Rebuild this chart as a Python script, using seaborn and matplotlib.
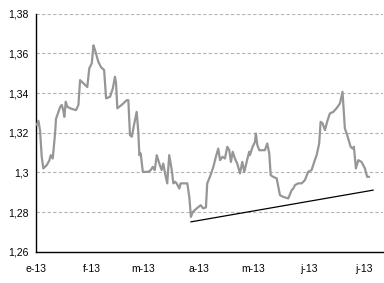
import matplotlib
matplotlib.use("Agg")
import matplotlib.pyplot as plt
import seaborn as sns
import pandas as pd

# days since 1 Jan 2013
days = [0.4, 1.3, 2.2, 3.1, 4.0, 5.9, 7.3, 8.1, 9.2, 10.5, 11.0, 13.3, 14.2, 15.1, 15.6,
        16.4, 17.3, 19.7, 22.1, 23.4, 24.3, 26.1, 28.3, 29.4, 30.8, 31.7, 32.6, 34.4, 35.9,
        37.6, 38.7, 40.9, 42.4, 43.6, 44.2, 44.9, 47.3, 50.1, 51.0, 51.9, 52.9, 54.1, 55.6,
        56.5, 57.1, 57.8, 59.0, 59.7, 62.0, 63.4, 64.5, 65.6, 66.7, 68.1, 69.4, 70.3, 71.3,
        72.5, 73.6, 75.0, 75.9, 76.8, 77.7, 79.2, 79.9, 81.4, 83.6, 84.7, 85.6, 86.6, 88.8,
        91.0, 92.4, 93.9, 94.6, 96.1, 98.0, 99.4, 100.7, 101.7, 103.1, 104.4, 105.7, 106.8,
        107.7, 108.7, 109.9, 111.2, 112.7, 114.0, 115.1, 116.4, 117.8, 118.2, 119.7, 121.0,
        121.5, 122.3, 123.4, 126.5, 127.8, 128.9, 129.7, 131.1, 133.0, 133.9, 134.8, 136.6,
        139.4, 141.3, 142.2, 143.1, 144.9, 146.8, 148.6, 150.4, 152.3, 154.1, 155.1, 156.5,
        157.3, 158.4, 159.7, 160.9, 162.4, 164.3, 166.1, 168.0, 169.4, 170.7, 172.0, 173.9,
        175.0, 175.7, 176.8, 178.1, 179.9, 181.8, 183.0, 184.1]
rate = [1.324, 1.326, 1.321, 1.308, 1.302, 1.3037, 1.306, 1.3087, 1.307, 1.3197, 1.327,
        1.333, 1.334, 1.331, 1.328, 1.3356, 1.333, 1.332, 1.3314, 1.334, 1.3465, 1.3449,
        1.343, 1.3524, 1.355, 1.364, 1.3616, 1.3557, 1.353, 1.3516, 1.3373, 1.3381, 1.3423,
        1.3482, 1.345, 1.3323, 1.334, 1.3364, 1.3364, 1.3188, 1.318, 1.3238, 1.3305, 1.3205,
        1.3087, 1.3096, 1.3003, 1.3003, 1.3003, 1.3012, 1.3028, 1.3012, 1.3087, 1.3045,
        1.3012, 1.3045, 1.2995, 1.2945, 1.3087, 1.3012, 1.2945, 1.2953, 1.2945, 1.2919,
        1.2945, 1.2945, 1.2945, 1.2877, 1.2776, 1.2801, 1.2819, 1.2835, 1.2819, 1.2824,
        1.2945, 1.2978, 1.3028, 1.3079, 1.312, 1.3062, 1.3079, 1.307, 1.3129, 1.3112,
        1.3053, 1.3104, 1.307, 1.3045, 1.2995, 1.3053, 1.3003, 1.3053, 1.3104, 1.3087,
        1.3129, 1.3154, 1.3196, 1.3138, 1.3112, 1.3112, 1.3146, 1.3096, 1.2986, 1.2978,
        1.297, 1.2927, 1.2886, 1.2877, 1.2869, 1.2911, 1.2919, 1.2936, 1.2945, 1.2945,
        1.2961, 1.3003, 1.3012, 1.3062, 1.3087, 1.3146, 1.3255, 1.3247, 1.3213, 1.3255,
        1.3297, 1.3305, 1.3323, 1.3348, 1.3406, 1.3222, 1.3188, 1.3129, 1.312, 1.3129,
        1.302, 1.3062, 1.3053, 1.302, 1.2978, 1.2978]

trend_days = [85.5, 186.4]
trend_vals = [1.2751, 1.2911]

tick_days = [0, 31, 59, 90, 120, 151, 181]
tick_labels = ["e-13", "f-13", "m-13", "a-13", "m-13", "j-13", "j-13"]
y_ticks = [1.26, 1.28, 1.30, 1.32, 1.34, 1.36, 1.38]
y_labels = ["1,26", "1,28", "1,3", "1,32", "1,34", "1,36", "1,38"]

sns.set_style("white")
plt.rcParams['font.family'] = ['Liberation Sans', 'DejaVu Sans']

fig = plt.figure(figsize=(3.84, 2.83), dpi=100)
ax = fig.add_axes([0.094, 0.11, 0.903, 0.842])

df = pd.DataFrame({"day": days, "rate": rate})
tr = pd.DataFrame({"day": trend_days, "rate": trend_vals})
sns.lineplot(data=df, x="day", y="rate", ax=ax, color="#969696", linewidth=1.6, zorder=3)
sns.lineplot(data=tr, x="day", y="rate", ax=ax, color="black", linewidth=0.9, zorder=4)

ax.set_xlim(0, 191.7)
ax.set_ylim(1.26, 1.38)
ax.set_xticks(tick_days)
ax.set_xticklabels(tick_labels)
ax.set_yticks(y_ticks)
ax.set_yticklabels(y_labels)
ax.set_xlabel("")
ax.set_ylabel("")

for y in y_ticks[1:]:
    ax.axhline(y, color="#b4b4b4", linestyle=(0, (3, 2)), linewidth=0.8, zorder=1)

for s in ["top", "right"]:
    ax.spines[s].set_visible(False)
for s in ["left", "bottom"]:
    ax.spines[s].set_color("black")
    ax.spines[s].set_linewidth(1.0)

ax.tick_params(axis="both", which="major", direction="out", length=3.5, width=0.9,
               color="black", labelsize=7.5, labelcolor="black")
ax.tick_params(axis="y", pad=2)
ax.tick_params(axis="x", pad=5)
ax.grid(False)

fig.savefig("out.png", dpi=100)
